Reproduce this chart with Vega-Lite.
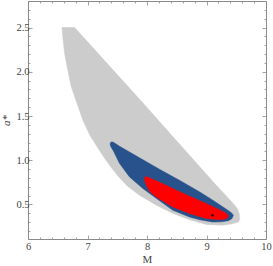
{
  "$schema": "https://vega.github.io/schema/vega-lite/v6.json",
  "width": 238,
  "height": 238,
  "autosize": {"type": "none"},
  "padding": {"left": 28, "top": 1, "right": 7, "bottom": 27},
  "config": {
    "view": {"stroke": "#8a8a8a", "strokeWidth": 1},
    "axis": {
      "grid": false,
      "domain": false,
      "tickColor": "#8a8a8a",
      "tickWidth": 0.8,
      "labelFont": "Liberation Serif",
      "labelFontSize": 10.5,
      "labelColor": "#444444",
      "titleFont": "Liberation Serif",
      "titleFontSize": 11,
      "titleFontWeight": "normal",
      "titleColor": "#444444",
      "labelOverlap": false,
      "labelBound": false,
      "labelFlush": false
    }
  },
  "datasets": {
    "gray": [
      {"i": 0, "M": 6.570, "a": 2.5},
      {"i": 1, "M": 6.784, "a": 2.5},
      {"i": 2, "M": 7.891, "a": 1.677},
      {"i": 3, "M": 8.789, "a": 1.000},
      {"i": 4, "M": 9.133, "a": 0.740},
      {"i": 5, "M": 9.368, "a": 0.571},
      {"i": 6, "M": 9.452, "a": 0.509},
      {"i": 7, "M": 9.519, "a": 0.453},
      {"i": 8, "M": 9.552, "a": 0.391},
      {"i": 9, "M": 9.560, "a": 0.334},
      {"i": 10, "M": 9.535, "a": 0.302},
      {"i": 11, "M": 9.418, "a": 0.280},
      {"i": 12, "M": 9.267, "a": 0.266},
      {"i": 13, "M": 8.998, "a": 0.275},
      {"i": 14, "M": 8.713, "a": 0.328},
      {"i": 15, "M": 8.428, "a": 0.402},
      {"i": 16, "M": 8.159, "a": 0.492},
      {"i": 17, "M": 7.874, "a": 0.605},
      {"i": 18, "M": 7.673, "a": 0.707},
      {"i": 19, "M": 7.530, "a": 0.808},
      {"i": 20, "M": 7.396, "a": 0.921},
      {"i": 21, "M": 7.287, "a": 1.023},
      {"i": 22, "M": 7.178, "a": 1.135},
      {"i": 23, "M": 7.040, "a": 1.282},
      {"i": 24, "M": 6.923, "a": 1.451},
      {"i": 25, "M": 6.817, "a": 1.655},
      {"i": 26, "M": 6.728, "a": 1.827},
      {"i": 27, "M": 6.652, "a": 2.075},
      {"i": 28, "M": 6.616, "a": 2.204},
      {"i": 29, "M": 6.587, "a": 2.377},
      {"i": 30, "M": 6.570, "a": 2.5}
    ],
    "blue": [
      {"i": 0, "M": 7.379, "a": 1.186},
      {"i": 1, "M": 7.396, "a": 1.207},
      {"i": 2, "M": 7.430, "a": 1.205},
      {"i": 3, "M": 7.539, "a": 1.158},
      {"i": 4, "M": 7.874, "a": 1.028},
      {"i": 5, "M": 8.210, "a": 0.898},
      {"i": 6, "M": 8.545, "a": 0.774},
      {"i": 7, "M": 8.881, "a": 0.644},
      {"i": 8, "M": 9.133, "a": 0.537},
      {"i": 9, "M": 9.334, "a": 0.447},
      {"i": 10, "M": 9.418, "a": 0.407},
      {"i": 11, "M": 9.452, "a": 0.379},
      {"i": 12, "M": 9.426, "a": 0.340},
      {"i": 13, "M": 9.368, "a": 0.317},
      {"i": 14, "M": 9.250, "a": 0.304},
      {"i": 15, "M": 9.099, "a": 0.302},
      {"i": 16, "M": 8.881, "a": 0.328},
      {"i": 17, "M": 8.713, "a": 0.360},
      {"i": 18, "M": 8.433, "a": 0.436},
      {"i": 19, "M": 8.176, "a": 0.560},
      {"i": 20, "M": 7.930, "a": 0.681},
      {"i": 21, "M": 7.706, "a": 0.812},
      {"i": 22, "M": 7.539, "a": 0.963},
      {"i": 23, "M": 7.438, "a": 1.102},
      {"i": 24, "M": 7.388, "a": 1.158},
      {"i": 25, "M": 7.379, "a": 1.186}
    ],
    "red": [
      {"i": 0, "M": 7.958, "a": 0.791},
      {"i": 1, "M": 7.966, "a": 0.814},
      {"i": 2, "M": 8.008, "a": 0.810},
      {"i": 3, "M": 8.210, "a": 0.752},
      {"i": 4, "M": 8.433, "a": 0.681},
      {"i": 5, "M": 8.713, "a": 0.594},
      {"i": 6, "M": 8.993, "a": 0.511},
      {"i": 7, "M": 9.216, "a": 0.441},
      {"i": 8, "M": 9.317, "a": 0.407},
      {"i": 9, "M": 9.368, "a": 0.374},
      {"i": 10, "M": 9.351, "a": 0.348},
      {"i": 11, "M": 9.301, "a": 0.334},
      {"i": 12, "M": 9.216, "a": 0.328},
      {"i": 13, "M": 8.993, "a": 0.342},
      {"i": 14, "M": 8.713, "a": 0.398},
      {"i": 15, "M": 8.433, "a": 0.473},
      {"i": 16, "M": 8.154, "a": 0.586},
      {"i": 17, "M": 8.042, "a": 0.650},
      {"i": 18, "M": 7.975, "a": 0.740},
      {"i": 19, "M": 7.958, "a": 0.791}
    ],
    "dot": [
      {"M": 9.10, "a": 0.378}
    ]
  },
  "layer": [
    {
      "data": {"name": "gray"},
      "mark": {"type": "line", "fill": "#cccccc", "stroke": "#cccccc", "strokeWidth": 0.5},
      "encoding": {
        "x": {
          "field": "M", "type": "quantitative",
          "scale": {"domain": [6, 10], "nice": false, "zero": false},
          "axis": {
            "orient": "bottom", "title": "M",
            "values": [6, 6.2, 6.4, 6.6, 6.8, 7, 7.2, 7.4, 7.6, 7.8, 8, 8.2, 8.4, 8.6, 8.8, 9, 9.2, 9.4, 9.6, 9.8, 10],
            "labelExpr": "abs(datum.value - round(datum.value)) < 0.001 ? format(datum.value, 'd') : ''",
            "tickSize": {"condition": {"test": "abs(datum.value - round(datum.value)) < 0.001", "value": -4}, "value": -2},
            "labelPadding": 6,
            "titlePadding": 0
          }
        },
        "y": {
          "field": "a", "type": "quantitative",
          "scale": {"domain": [0.11, 2.8], "nice": false, "zero": false},
          "axis": {
            "orient": "left", "title": "a*", "titleFontStyle": "italic",
            "values": [0.2, 0.3, 0.4, 0.5, 0.6, 0.7, 0.8, 0.9, 1.0, 1.1, 1.2, 1.3, 1.4, 1.5, 1.6, 1.7, 1.8, 1.9, 2.0, 2.1, 2.2, 2.3, 2.4, 2.5, 2.6, 2.7],
            "labelExpr": "abs(datum.value*2 - round(datum.value*2)) < 0.001 ? format(datum.value, '.1f') : ''",
            "tickSize": {"condition": {"test": "abs(datum.value*2 - round(datum.value*2)) < 0.001", "value": -4}, "value": -2},
            "labelPadding": 3,
            "titlePadding": 4
          }
        },
        "order": {"field": "i", "type": "quantitative"}
      }
    },
    {
      "data": {"name": "blue"},
      "mark": {"type": "line", "fill": "#27528b", "stroke": "#27528b", "strokeWidth": 0.5},
      "encoding": {
        "x": {
          "field": "M", "type": "quantitative",
          "axis": {
            "orient": "top", "title": null, "labels": false,
            "values": [6, 6.2, 6.4, 6.6, 6.8, 7, 7.2, 7.4, 7.6, 7.8, 8, 8.2, 8.4, 8.6, 8.8, 9, 9.2, 9.4, 9.6, 9.8, 10],
            "tickSize": {"condition": {"test": "abs(datum.value - round(datum.value)) < 0.001", "value": -4}, "value": -2}
          }
        },
        "y": {
          "field": "a", "type": "quantitative",
          "axis": {
            "orient": "right", "title": null, "labels": false,
            "values": [0.2, 0.3, 0.4, 0.5, 0.6, 0.7, 0.8, 0.9, 1.0, 1.1, 1.2, 1.3, 1.4, 1.5, 1.6, 1.7, 1.8, 1.9, 2.0, 2.1, 2.2, 2.3, 2.4, 2.5, 2.6, 2.7],
            "tickSize": {"condition": {"test": "abs(datum.value*2 - round(datum.value*2)) < 0.001", "value": -4}, "value": -2}
          }
        },
        "order": {"field": "i", "type": "quantitative"}
      }
    },
    {
      "data": {"name": "red"},
      "mark": {"type": "line", "fill": "#ff0000", "stroke": "#ff0000", "strokeWidth": 0.5},
      "encoding": {
        "x": {"field": "M", "type": "quantitative", "axis": null},
        "y": {"field": "a", "type": "quantitative", "axis": null},
        "order": {"field": "i", "type": "quantitative"}
      }
    },
    {
      "data": {"name": "dot"},
      "mark": {"type": "point", "shape": "cross", "filled": true, "color": "#000000", "size": 10},
      "encoding": {
        "x": {"field": "M", "type": "quantitative", "axis": null},
        "y": {"field": "a", "type": "quantitative", "axis": null}
      }
    }
  ],
  "resolve": {"axis": {"x": "independent", "y": "independent"}}
}
